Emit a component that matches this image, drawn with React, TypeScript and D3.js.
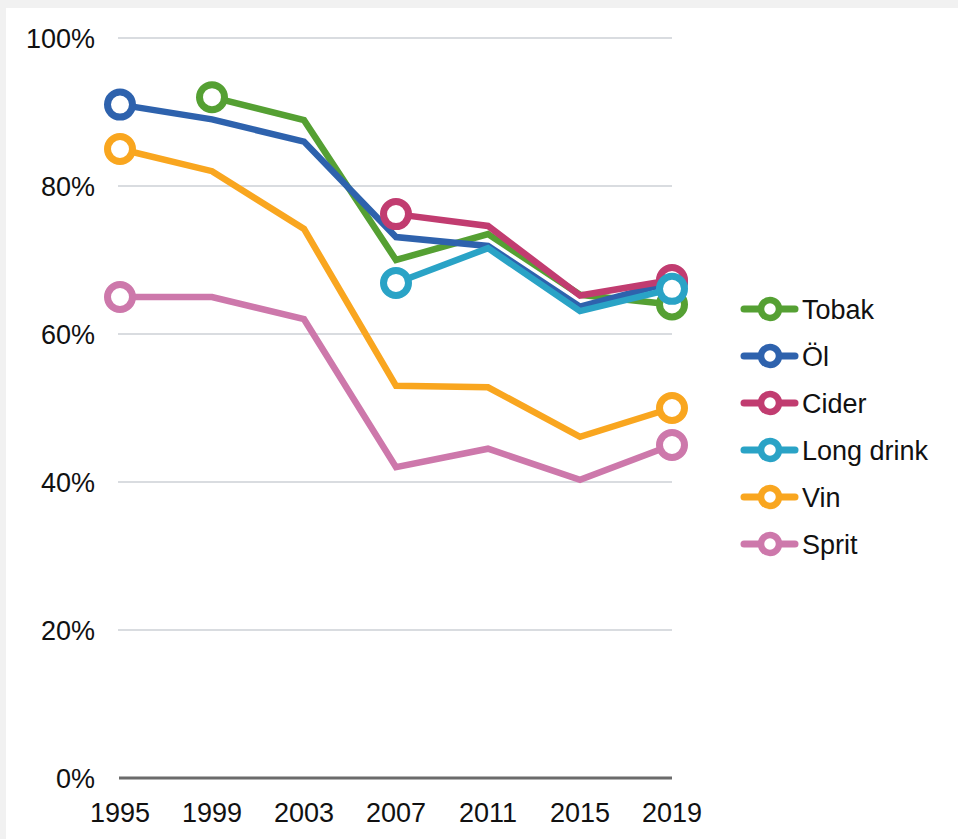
import React, { useRef, useEffect } from "react";
import * as d3 from "d3";

const years = ["1995", "1999", "2003", "2007", "2011", "2015", "2019"];
const yTicks = [0, 20, 40, 60, 80, 100];

// null = no data that year
const tobak = [null, 92, 88.9, 70, 73.5, 65.3, 64];
const ol = [91, 89, 86, 73.1, 71.9, 63.7, 67];
const cider = [null, null, null, 76.2, 74.6, 65.2, 67.3];
const longDrink = [null, null, null, 66.9, 71.6, 63.1, 66.1];
const vin = [85, 82, 74.2, 53, 52.8, 46.1, 50];
const sprit = [65, 65, 62, 42, 44.5, 40.3, 45];

const seriesNames = ["Tobak", "Öl", "Cider", "Long drink", "Vin", "Sprit"];
const seriesValues = [tobak, ol, cider, longDrink, vin, sprit];
const seriesColors = ["#55a033", "#2e62ad", "#c13c70", "#2aa3c6", "#f9a61f", "#cd78ab"];

const App = () => {
  const svgRef = useRef<SVGSVGElement>(null);

  useEffect(() => {
    const svg = d3.select(svgRef.current);
    svg.selectAll("*").remove();
    const width = 958;
    const height = 839;
    const font = "'Liberation Sans', Arial, sans-serif";

    svg.attr("width", width).attr("height", height);

    // light frame on top and left like the screenshot
    svg.append("rect").attr("width", width).attr("height", height).attr("fill", "#f1f1f1");
    svg.append("rect").attr("x", 6).attr("y", 8).attr("width", width - 6).attr("height", height - 8).attr("fill", "#ffffff");

    const x = d3.scalePoint().domain(years).range([120, 672]);
    const y = d3.scaleLinear().domain([0, 100]).range([778, 38]);

    // gridlines
    svg
      .append("g")
      .selectAll("line")
      .data(yTicks.filter((d) => d > 0))
      .enter()
      .append("line")
      .attr("x1", 118)
      .attr("x2", 672)
      .attr("y1", (d) => y(d))
      .attr("y2", (d) => y(d))
      .attr("stroke", "#d9dce0")
      .attr("stroke-width", 2);

    // base line
    svg
      .append("line")
      .attr("x1", 119)
      .attr("x2", 672)
      .attr("y1", y(0))
      .attr("y2", y(0))
      .attr("stroke", "#6b6b6b")
      .attr("stroke-width", 3);

    // y tick labels
    svg
      .append("g")
      .selectAll("text")
      .data(yTicks)
      .enter()
      .append("text")
      .attr("x", 95)
      .attr("y", (d) => y(d))
      .attr("dy", "0.36em")
      .attr("text-anchor", "end")
      .style("font-family", font)
      .style("font-size", "27px")
      .style("fill", "#111111")
      .text((d) => d + "%");

    // x tick labels
    svg
      .append("g")
      .selectAll("text")
      .data(years)
      .enter()
      .append("text")
      .attr("x", (d) => x(d))
      .attr("y", 822)
      .attr("text-anchor", "middle")
      .style("font-family", font)
      .style("font-size", "27px")
      .style("fill", "#111111")
      .text((d) => d);

    const line = d3
      .line<number | null>()
      .defined((d) => d !== null)
      .x((d, i) => x(years[i]))
      .y((d) => y(d as number));

    seriesValues.forEach((vals, s) => {
      const g = svg.append("g");
      g.append("path")
        .attr("d", line(vals))
        .attr("fill", "none")
        .attr("stroke", seriesColors[s])
        .attr("stroke-width", 6.5)
        .attr("stroke-linejoin", "miter");

      const idx = vals.map((v, i) => (v !== null ? i : -1)).filter((i) => i >= 0);
      const ends = [idx[0], idx[idx.length - 1]];
      g.selectAll("circle")
        .data(ends)
        .enter()
        .append("circle")
        .attr("cx", (i) => x(years[i]))
        .attr("cy", (i) => y(vals[i] as number))
        .attr("r", 12.5)
        .attr("fill", "#ffffff")
        .attr("stroke", seriesColors[s])
        .attr("stroke-width", 7);
    });

    // legend
    const legend = svg
      .append("g")
      .selectAll("g")
      .data(seriesNames)
      .enter()
      .append("g")
      .attr("transform", (d, i) => `translate(0,${309 + i * 47})`);

    legend
      .append("line")
      .attr("x1", 744)
      .attr("x2", 795)
      .attr("stroke", (d, i) => seriesColors[i])
      .attr("stroke-width", 7)
      .attr("stroke-linecap", "round");

    legend
      .append("circle")
      .attr("cx", 770)
      .attr("r", 9)
      .attr("fill", "#ffffff")
      .attr("stroke", (d, i) => seriesColors[i])
      .attr("stroke-width", 6.5);

    legend
      .append("text")
      .attr("x", 802)
      .attr("dy", "0.36em")
      .style("font-family", font)
      .style("font-size", "27px")
      .style("fill", "#111111")
      .text((d) => d);
  }, []);

  return <svg ref={svgRef} style={{ position: "absolute", left: 0, top: 0, display: "block" }}></svg>;
};

export default App;
